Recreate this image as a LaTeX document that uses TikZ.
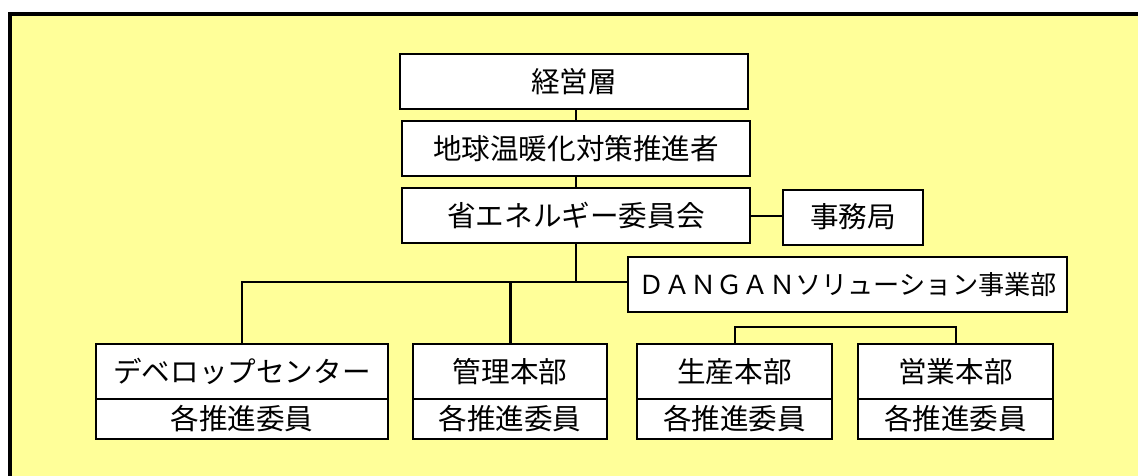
\documentclass[tikz,border=0pt]{standalone}
\usepackage{fontspec}
\newfontfamily\jpfont{Noto Sans CJK JP}
\usepackage{tikz}
\definecolor{paleyellow}{RGB}{255,255,153}
\tikzset{
  orgbox/.style={draw=black,line width=2pt,fill=white,inner sep=0pt,minimum height=55pt,font=\jpfont\fontsize{28.6}{28.6}\selectfont},
  memberbox/.style={orgbox,minimum height=40pt},
  link/.style={line width=2pt},
}

\begin{document}
\begin{tikzpicture}[x=1pt,y=-1pt]
      \useasboundingbox (0,0) rectangle (1138,475);
      \clip (0,0) rectangle (1138,475);
      \draw[line width=4pt,fill=paleyellow] (10,13.5) rectangle (1180,520);
      \node[orgbox,minimum width=348pt] (board) at (574,81.5) {経営層};
      \node[orgbox,minimum width=348pt] (promoter) at (576,148.5) {地球温暖化対策推進者};
      \node[orgbox,minimum width=348pt] (committee) at (576,215.5) {省エネルギー委員会};
      \node[orgbox,minimum width=140pt] (office) at (853,217) {事務局};
      \node[orgbox,minimum width=439pt,font=\jpfont\fontsize{26.2}{26.2}\selectfont] (dangan) at (847.5,284.5) {ＤＡＮＧＡＮソリューション事業部};
      \node[orgbox,minimum width=292pt] (dev) at (242,371.5) {デベロップセンター};
      \node[memberbox,minimum width=292pt] (devm) at (242,419) {各推進委員};
      \node[orgbox,minimum width=194pt] (admin) at (510,371.5) {管理本部};
      \node[memberbox,minimum width=194pt] (adminm) at (510,419) {各推進委員};
      \node[orgbox,minimum width=195pt] (prod) at (734.5,371.5) {生産本部};
      \node[memberbox,minimum width=195pt] (prodm) at (734.5,419) {各推進委員};
      \node[orgbox,minimum width=195pt] (sales) at (955.5,371.5) {営業本部};
      \node[memberbox,minimum width=195pt] (salesm) at (955.5,419) {各推進委員};
      \coordinate (hub) at (576,282);
      \draw[link] (promoter.north) -- (promoter.north |- board.south);
      \draw[link] (committee.north) -- (promoter.south);
      \draw[link] (committee.east) -- (committee.east -| office.west);
      \draw[link] (committee.south) -- (hub);
      \draw[link] (dev.north) |- (dangan.west |- hub);
      \draw[line width=3pt] (admin.north) -- (admin.north |- hub);
      \draw[link] (prod.north) -- ++(0,-16) -| (sales.north);
\end{tikzpicture}
\end{document}
